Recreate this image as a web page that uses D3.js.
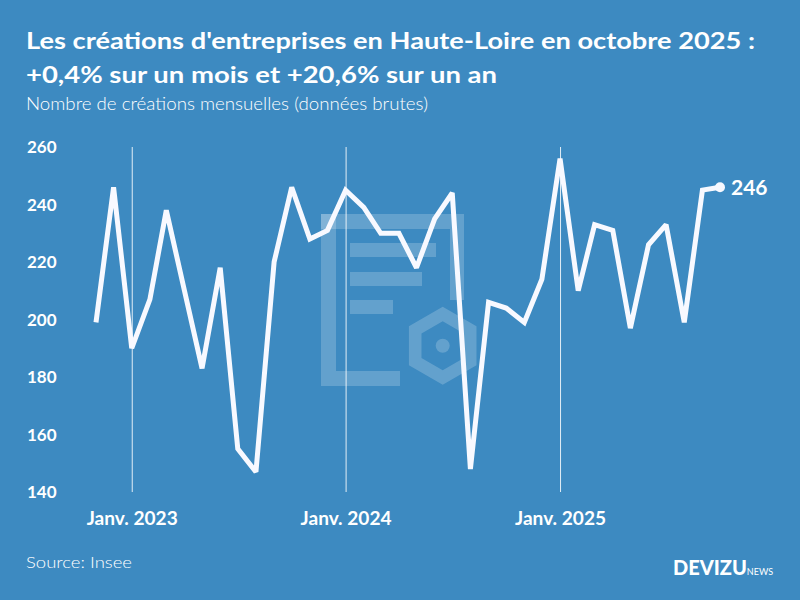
<!DOCTYPE html>
<html>
<head>
<meta charset="utf-8">
<script src="https://cdn.jsdelivr.net/npm/d3@7"></script>
<style>
html,body{margin:0;padding:0;background:#3d8ac1;}
svg{display:block;}
text{font-family:Lato,"Noto Sans",sans-serif;fill:#fff;}
</style>
</head>
<body>
<svg id="chart" width="800" height="600"></svg>
<script>
// ---- data ----
const months = [
  "2022-11","2022-12",
  "2023-01","2023-02","2023-03","2023-04","2023-05","2023-06","2023-07","2023-08","2023-09","2023-10","2023-11","2023-12",
  "2024-01","2024-02","2024-03","2024-04","2024-05","2024-06","2024-07","2024-08","2024-09","2024-10","2024-11","2024-12",
  "2025-01","2025-02","2025-03","2025-04","2025-05","2025-06","2025-07","2025-08","2025-09","2025-10"
];
const creations = [
  199,246,
  190,207,238,210,183,218,155,147,220,246,228,231,
  245,239,230,230,218,235,244,148,206,204,199,214,
  256,210,233,231,197,226,233,199,245,246
];
const yTicks = [140,160,180,200,220,240,260];
const xTickDates = ["2023-01","2024-01","2025-01"];
const xTickLabels = ["Janv. 2023","Janv. 2024","Janv. 2025"];
const titleLines = ["Les créations d'entreprises en Haute-Loire en octobre 2025 :","+0,4% sur un mois et +20,6% sur un an"];
const subtitle = "Nombre de créations mensuelles (données brutes)";
const source = "Source: Insee";

// ---- setup ----
const svg = d3.select("#chart");
const W = 800, H = 600;
svg.append("rect").attr("width",W).attr("height",H).attr("fill","#3d8ac1");

const parse = d3.timeParse("%Y-%m");
const data = months.map((m,i)=>({date:parse(m), value:creations[i]}));

const x = d3.scaleTime().domain(d3.extent(data,d=>d.date)).range([96,720]);
const y = d3.scaleLinear().domain([140,260]).range([492,147]);

// ---- watermark ----
const wm = svg.append("g").attr("fill","#ffffff").attr("fill-opacity",0.2);
wm.append("rect").attr("x",321).attr("y",214).attr("width",15).attr("height",172);
wm.append("rect").attr("x",321).attr("y",214).attr("width",143).attr("height",15);
wm.append("rect").attr("x",450).attr("y",229).attr("width",14).attr("height",71);
wm.append("rect").attr("x",336).attr("y",371).attr("width",64).attr("height",15);
wm.append("rect").attr("x",350).attr("y",243).attr("width",86).attr("height",14);
wm.append("rect").attr("x",350).attr("y",272).attr("width",72).attr("height",14);
wm.append("rect").attr("x",350).attr("y",300).attr("width",43).attr("height",14);
const hx = 442.7, hy = 345.7, R1 = 39, R2 = 24.5;
const hexPts = r => d3.range(6).map(k=>{const a = Math.PI/3*k - Math.PI/2; return [hx + r*Math.cos(a), hy + r*Math.sin(a)];});
const ring = "M" + hexPts(R1).join("L") + "Z M" + hexPts(R2).reverse().join("L") + "Z";
wm.append("path").attr("d",ring).attr("fill-rule","evenodd");
wm.append("circle").attr("cx",hx).attr("cy",hy).attr("r",7);

// ---- vertical grid lines at January ----
const xAxis = d3.axisBottom(x)
  .tickValues(xTickDates.map(parse))
  .tickSize(-(492-147))
  .tickFormat((d,i)=>xTickLabels[i]);
const gx = svg.append("g").attr("transform","translate(0,492)").call(xAxis);
gx.select(".domain").remove();
gx.selectAll(".tick line").attr("stroke","#ffffff").attr("stroke-opacity",0.85).attr("stroke-width",1);
gx.selectAll(".tick text")
  .attr("y",33).attr("dy",0)
  .attr("textLength",91).attr("lengthAdjust","spacingAndGlyphs")
  .style("font-family","Lato, sans-serif")
  .style("font-weight","700").style("font-size","18px").attr("fill","#fff");

// ---- y axis labels ----
const yAxis = d3.axisLeft(y).tickValues(yTicks).tickSize(0).tickFormat(d3.format("d"));
const gy = svg.append("g").attr("transform","translate(27,0)").call(yAxis);
gy.select(".domain").remove();
gy.selectAll(".tick text")
  .attr("text-anchor","start").attr("x",0).attr("dy","0.35em")
  .style("font-family","Lato, sans-serif")
  .style("font-weight","700").style("font-size","17px").attr("fill","#fff");

// ---- line ----
const line = d3.line().x(d=>x(d.date)).y(d=>y(d.value));
svg.append("path").datum(data)
  .attr("d",line).attr("fill","none")
  .attr("stroke","#f8f9ff").attr("stroke-width",5)
  .attr("stroke-linejoin","miter").attr("stroke-miterlimit",2.2);

const last = data[data.length-1];
svg.append("circle").attr("cx",x(last.date)).attr("cy",y(last.value)).attr("r",5).attr("fill","#f8f9ff");
svg.append("text").attr("x",x(last.date)+11).attr("y",y(last.value)).attr("dy","0.36em")
  .style("font-weight","700").style("font-size","21px").text(last.value);

// ---- titles ----
svg.append("text").attr("x",26).attr("y",49).style("font-weight","700").style("font-size","23px")
  .attr("textLength",729).attr("lengthAdjust","spacingAndGlyphs").text(titleLines[0]);
svg.append("text").attr("x",26).attr("y",83).style("font-weight","700").style("font-size","23px")
  .attr("textLength",471).attr("lengthAdjust","spacingAndGlyphs").text(titleLines[1]);
svg.append("text").attr("x",26).attr("y",110).style("font-weight","300").style("font-size","17px")
  .attr("textLength",402).attr("lengthAdjust","spacingAndGlyphs").text(subtitle);

// ---- footer ----
svg.append("text").attr("x",26).attr("y",568).style("font-weight","300").style("font-size","16px")
  .attr("textLength",106).attr("lengthAdjust","spacingAndGlyphs").text(source);
const logo = svg.append("text").attr("x",673).attr("y",575);
logo.append("tspan").style("font-weight","900").style("font-size","20px").text("DEVIZU");
logo.append("tspan").style("font-weight","400").style("font-size","9px").text("NEWS");
</script>
</body>
</html>
